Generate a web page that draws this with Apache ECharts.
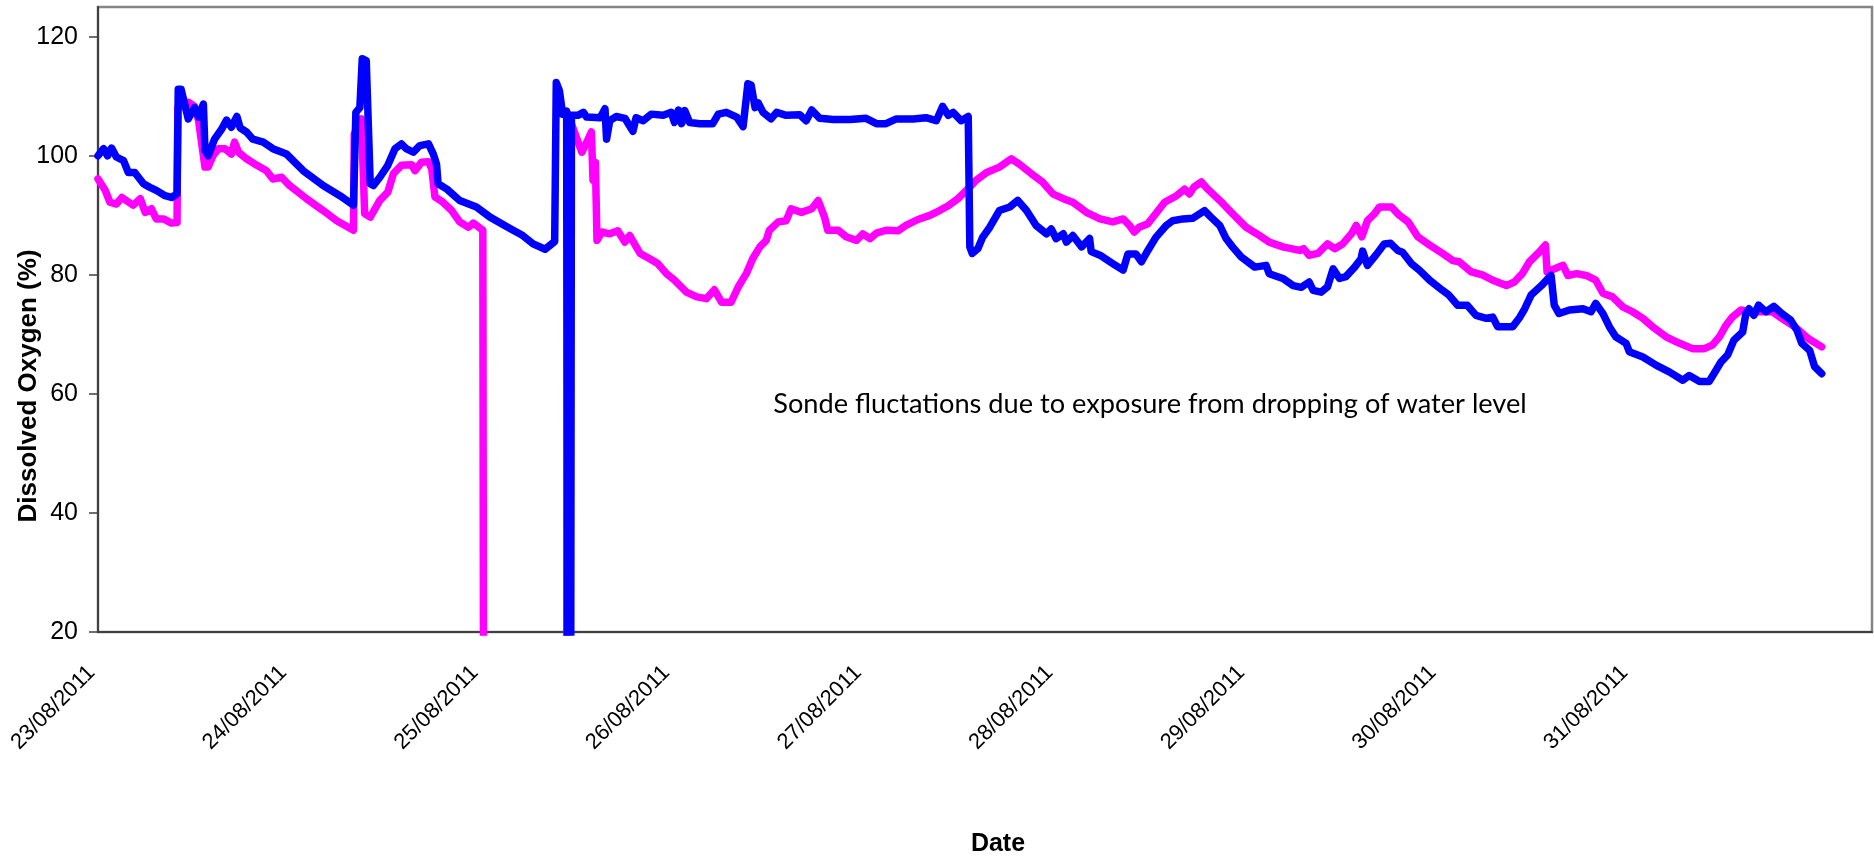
<!DOCTYPE html>
<html><head><meta charset="utf-8">
<script src="https://cdn.jsdelivr.net/npm/echarts@6/dist/echarts.min.js"></script>
<style>html,body{margin:0;padding:0;background:#fff}#c{width:1874px;height:863px}</style>
</head><body><div id="c"></div>
<script>
// x: hours since 23/08/2011 00:00
const xTickLabels = ['23/08/2011','24/08/2011','25/08/2011','26/08/2011','27/08/2011','28/08/2011','29/08/2011','30/08/2011','31/08/2011'];
const yTicks = [20, 40, 60, 80, 100, 120];

const blueHours = [0,0.7,1.2,1.7,2.3,3.2,3.8,4.6,5.7,6.5,7.3,8.4,9.2,9.9,10.05,10.4,11.3,12.1,12.6,13.2,13.4,13.8,14.6,15.5,16.1,16.7,17.4,17.8,18.6,19.4,20.7,21.9,23.6,25.7,28.2,30.3,32.0,32.3,32.8,33.1,33.6,34.1,34.5,35.3,36.3,37.2,38.0,38.6,39.5,40.3,41.4,42.0,42.4,42.6,43.7,45.3,47.4,49.1,51.6,53.2,54.5,56.0,57.2,57.4,57.8,58.2,58.7,58.8,59.2,59.3,60.1,60.8,61.2,62.9,63.5,63.7,64.1,64.9,66.0,67.0,67.4,68.3,69.3,70.8,71.8,72.2,72.7,73.1,73.5,74.1,75.4,77.0,77.7,78.7,80.0,80.8,81.4,81.8,82.3,82.7,83.3,84.3,85.0,86.2,87.9,88.7,89.4,90.4,92.1,94.2,96.2,97.5,98.7,100.0,102.1,103.7,105.0,105.8,106.5,107.1,108.1,109.0,109.2,109.5,110.2,110.8,111.7,112.9,114.2,115.2,116.3,117.5,118.8,119.4,120.0,120.9,121.3,122.1,123.2,124.2,124.4,125.5,127.1,128.4,129.0,130.0,130.7,131.5,132.5,133.8,134.6,135.9,137.1,138.6,139.4,140.5,141.3,142.1,143.2,144.9,146.3,146.7,148.4,149.7,150.7,151.7,152.2,153.2,154.0,154.7,155.5,156.3,157.4,158.2,158.4,159.0,160.1,161.1,161.9,162.8,163.4,164.5,165.5,166.8,168.4,169.2,170.3,171.5,172.6,173.9,174.7,175.3,177.2,178.0,178.7,179.5,180.8,182.0,182.4,183.0,184.3,186.0,187.0,187.6,188.5,189.3,190.1,191.4,191.8,193.5,195.2,196.8,198.5,199.3,200.6,201.8,202.4,203.3,204.1,204.9,206.0,206.4,206.8,207.4,208.0,208.9,209.9,210.9,212.0,212.8,213.4,214.4,215.0,215.9];
const blueDO = [100.0,101.2,100.0,101.3,99.8,99.2,97.2,97.2,95.3,94.7,94.2,93.3,93.0,93.6,111.2,111.2,106.2,108.1,106.5,108.7,100.9,100.0,102.8,104.5,106.0,104.8,106.6,104.7,104.0,102.8,102.3,101.2,100.3,97.5,95.0,93.3,91.7,107.3,108.1,116.3,116.0,95.3,95.0,96.4,98.4,101.2,102.0,101.2,100.6,101.7,102.0,100.3,98.6,95.3,94.4,92.5,91.4,89.7,87.8,86.6,85.2,84.3,85.6,112.3,110.9,107.0,107.5,0,0,106.8,106.8,107.3,106.5,106.4,107.9,102.8,105.9,106.6,106.3,104.1,106.4,105.9,107.0,106.8,107.3,105.6,107.7,105.4,107.6,105.6,105.4,105.4,107.0,107.3,106.5,104.9,112.1,111.9,108.1,108.9,107.3,106.2,107.3,106.8,106.9,105.9,107.7,106.3,106.1,106.1,106.3,105.4,105.4,106.2,106.2,106.4,105.9,108.3,106.8,107.3,105.9,106.6,84.7,83.6,84.4,86.3,88.0,90.8,91.4,92.5,90.8,88.3,86.9,87.7,86.1,86.9,85.5,86.6,84.7,86.1,83.9,83.3,81.9,80.8,83.5,83.5,82.2,84.1,86.3,88.3,89.1,89.4,89.5,90.8,89.7,88.3,86.1,84.7,83.0,81.3,81.6,80.2,79.4,78.2,77.9,78.8,77.4,77.1,78.0,81.0,79.4,79.7,81.3,82.7,84.0,81.6,83.4,85.2,85.3,84.1,83.8,81.9,80.8,79.1,77.4,76.6,74.9,74.9,73.2,72.7,72.9,71.3,71.3,72.7,74.3,76.6,78.2,79.9,74.9,73.5,74.1,74.3,73.8,75.2,73.5,71.3,69.6,68.5,67.1,66.2,64.8,63.7,62.3,63.1,62.1,62.1,63.4,65.4,66.5,69.0,70.4,73.5,74.3,73.2,74.9,73.8,74.7,73.5,72.4,70.7,68.5,67.3,64.6,63.4];

const pinkHours = [0,0.9,1.5,2.3,3.0,4.4,5.3,5.9,6.7,7.3,8.2,9.2,9.9,10.0,11.3,12.1,12.6,13.4,13.8,14.4,15.1,15.9,16.7,17.1,17.6,18.6,19.9,21.1,21.9,23.0,24.0,26.1,28.2,29.9,32.0,32.1,33.0,33.4,34.1,35.3,36.3,37.0,38.0,39.3,39.7,40.5,41.4,41.8,42.2,43.2,44.3,45.3,46.4,47.0,48.2,48.3,58.7,58.9,59.3,60.6,61.4,61.8,62.0,62.3,62.5,63.1,64.1,65.1,66.0,66.6,67.2,67.9,69.1,70.1,71.2,72.2,73.7,75.0,76.2,77.2,78.1,79.3,80.2,81.2,82.0,82.9,83.7,84.1,85.2,86.2,86.8,88.1,89.4,90.2,91.0,91.4,92.7,93.7,95.0,95.8,96.7,97.5,98.7,100.2,101.2,102.7,104.2,105.4,106.5,107.7,108.8,110.0,111.3,112.9,114.4,115.4,116.9,118.3,119.6,120.9,122.1,123.8,125.5,127.1,128.4,129.2,129.8,130.4,131.5,132.5,133.6,135.1,136.1,136.7,137.3,138.2,139.0,140.5,142.1,143.8,145.5,146.7,148.4,150.5,151.0,151.7,152.8,154.0,154.9,155.9,157.0,157.6,158.3,159.0,159.9,160.5,162.0,163.0,164.1,165.3,166.8,168.4,169.7,170.5,172.0,173.4,174.7,176.4,177.4,178.4,179.3,180.5,181.3,181.5,182.6,183.5,184.1,185.2,186.4,187.6,188.5,189.7,191.0,192.2,193.5,194.7,196.4,198.1,199.7,201.2,202.2,203.1,203.9,204.7,205.8,206.8,208.5,209.7,210.9,212.5,214.2,215.9];
const pinkDO = [96.1,94.2,92.2,91.9,93.0,91.7,92.8,90.5,91.1,89.4,89.4,88.7,88.8,108.1,109.0,108.3,105.9,98.1,98.1,100.0,101.2,101.2,100.3,102.3,100.6,99.5,98.4,97.5,96.1,96.4,95.0,92.8,90.8,89.1,87.5,103.7,106.2,90.3,89.7,92.5,93.9,97.0,98.4,98.5,97.5,98.9,99.0,97.8,93.1,92.2,90.8,88.9,88.0,88.7,87.5,0,0,107.0,105.4,100.6,102.8,104.0,95.9,98.9,85.8,87.2,86.9,87.4,85.5,86.6,85.2,83.6,82.7,81.9,80.2,79.1,77.1,76.3,76.0,77.5,75.4,75.4,78.0,80.2,82.7,84.7,85.8,87.5,88.9,89.1,91.1,90.5,91.1,92.5,89.7,87.5,87.5,86.4,85.8,86.9,86.1,87.0,87.5,87.4,88.3,89.3,90.0,90.8,91.6,92.8,94.2,95.9,97.2,98.1,99.5,98.6,97.0,95.6,93.6,92.8,92.2,90.5,89.4,88.9,89.4,88.3,87.2,88.0,88.6,90.3,92.2,93.3,94.4,93.6,94.8,95.6,94.4,92.5,90.3,88.0,86.6,85.5,84.7,84.1,84.4,83.3,83.6,85.2,84.4,85.2,86.9,88.3,86.4,89.1,90.3,91.4,91.4,90.0,88.9,86.4,85.0,83.6,82.4,82.2,80.5,80.0,79.1,78.2,78.8,80.2,82.2,83.8,85.0,80.5,81.1,81.6,79.9,80.2,79.9,79.1,76.9,76.3,74.6,73.8,72.7,71.3,69.6,68.5,67.6,67.6,68.2,69.6,71.5,72.9,74.1,73.8,73.8,73.8,72.7,71.3,69.3,67.9];

const annotationText = 'Sonde fluctations due to exposure from dropping of water level';
const yTitle = 'Dissolved Oxygen (%)';
const xTitle = 'Date';

const zip = (h, v) => h.map((t, i) => [t, v[i]]);

// fit annotation font to its width in the reference
const ctx = document.createElement('canvas').getContext('2d');
ctx.font = '100px Lato';
const annSize = 100 * 754 / ctx.measureText(annotationText).width;

const chart = echarts.init(document.getElementById('c'), null, {renderer: 'canvas'});
chart.setOption({
  animation: false,
  backgroundColor: '#ffffff',
  grid: {left: 98, right: 2, top: 7, bottom: 231, show: true, borderColor: '#858585', borderWidth: 2.5, backgroundColor: 'transparent'},
  xAxis: {
    type: 'value', min: 0, max: 222.2,
    axisLine: {show: true, onZero: false, lineStyle: {color: '#404040', width: 2}},
    axisTick: {show: false},
    splitLine: {show: false},
    axisLabel: {
      customValues: xTickLabels.map((_, i) => i * 24),
      formatter: v => xTickLabels[Math.round(v / 24)] || '',
      rotate: 45, fontSize: 22, fontFamily: 'Liberation Sans', color: '#000',
      margin: 31, padding: [0, 9, 0, 0]
    }
  },
  yAxis: {
    type: 'value', min: 20, max: 125,
    axisLine: {show: true, lineStyle: {color: '#404040', width: 2}},
    axisTick: {show: true, customValues: yTicks, length: 9, lineStyle: {color: '#404040', width: 1.5}},
    splitLine: {show: false},
    axisLabel: {customValues: yTicks, fontSize: 25, fontFamily: 'Liberation Sans', color: '#000', margin: 20}
  },
  series: [
    {type: 'line', data: zip(pinkHours, pinkDO), showSymbol: false, symbol: 'none', clip: true,
     lineStyle: {color: '#FF00FF', width: 7.5, cap: 'round', join: 'round'}},
    {type: 'line', data: zip(blueHours, blueDO), showSymbol: false, symbol: 'none', clip: true,
     lineStyle: {color: '#0000FF', width: 7.5, cap: 'round', join: 'round'}}
  ],
  graphic: [
    {type: 'text', x: 29, y: 386, rotation: Math.PI / 2,
     style: {text: yTitle, font: 'bold 26px "Liberation Sans"', fill: '#000', textAlign: 'center', textVerticalAlign: 'middle'}},
    {type: 'text', x: 998, y: 844,
     style: {text: xTitle, font: 'bold 25px "Liberation Sans"', fill: '#000', textAlign: 'center', textVerticalAlign: 'middle'}},
    {type: 'text', x: 1150, y: 404,
     style: {text: annotationText, font: annSize.toFixed(2) + 'px Lato', fill: '#000', textAlign: 'center', textVerticalAlign: 'middle'}}
  ]
});
</script>
</body></html>
